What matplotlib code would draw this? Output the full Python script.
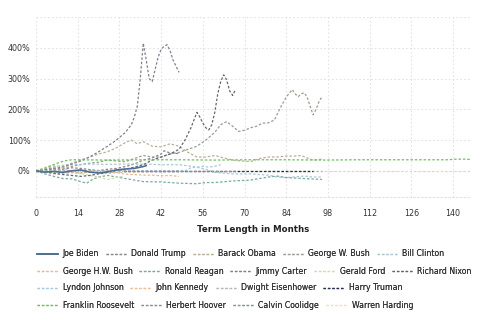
import numpy as np
import matplotlib
matplotlib.use("Agg")
import matplotlib.pyplot as plt
from matplotlib.ticker import FuncFormatter

# --- series: months into term and % change from start of term ---
biden_m = [0, 3, 6, 9, 12, 15, 18, 21, 24, 27, 30, 33, 36, 37]
biden_v = [0, -4, -2, -5, 0, 3, -4, -7, -3, 3, 6, 8, 14, 17]

trump_m = [0, 3, 6, 9, 12, 15, 18, 21, 24, 27, 30, 33, 36, 39, 42, 43, 45, 48]
trump_v = [0, 3, 6, 5, 10, 8, 4, 1, 5, 8, 14, 22, 35, 42, 55, 65, 58, 56]

obama_m = [0, 3, 6, 9, 12, 15, 18, 21, 24, 27, 30, 32, 34, 36, 39, 42, 45, 48, 51,
           54, 57, 60, 63, 66, 69, 72, 75, 78, 81, 84, 87, 89, 91, 93, 96]
obama_v = [0, 5, 12, 15, 25, 35, 45, 55, 62, 75, 92, 100, 88, 95, 80, 78, 88, 80, 60,
           45, 45, 50, 42, 35, 32, 30, 40, 45, 45, 48, 48, 50, 42, 35, 38]

gwbush_m = [0, 3, 6, 9, 12, 15, 18, 21, 24, 27, 30, 33, 36, 39, 42, 45, 48, 51, 54, 57,
            60, 62, 64, 66, 68, 70, 72, 74, 76, 78, 80, 82, 84, 86, 87, 88, 89, 90, 91,
            92, 93, 94, 95, 96]
gwbush_v = [0, 3, 5, 8, 15, 20, 25, 28, 35, 32, 30, 40, 50, 45, 45, 55, 60, 70, 80, 100,
            125, 150, 160, 145, 128, 132, 140, 145, 155, 156, 165, 205, 240, 264, 250, 241,
            250, 254, 240, 210, 182, 200, 225, 241]

clinton_m = [0, 3, 6, 9, 12, 18, 24, 30, 36, 42, 48, 54, 57, 60, 66, 72, 78, 81, 84, 90, 93, 96]
clinton_v = [0, 6, 14, 18, 20, 22, 21, 22, 22, 20, 20, 12, 5, -5, -10, -10, -14, -20, -22, -17, -20, -20]

hwbush_m = [0, 3, 6, 9, 12, 15, 18, 19, 21, 24, 27, 30, 33, 36, 39, 42, 45, 48]
hwbush_v = [0, -5, -10, -9, -6, -9, -3, 3, -6, -9, -5, -11, -12, -14, -14, -16, -15, -18]

reagan_m = [0, 3, 6, 9, 12, 15, 17, 19, 21, 24, 27, 30, 33, 36, 42, 48, 54, 57, 60, 66,
            72, 78, 81, 84, 90, 96]
reagan_v = [0, -10, -18, -25, -26, -35, -40, -28, -20, -15, -20, -25, -30, -35, -36, -40,
            -42, -38, -38, -33, -30, -20, -17, -22, -25, -28]

carter_m = [0, 3, 6, 9, 12, 15, 18, 21, 24, 27, 30, 32, 33, 34, 35, 36, 37, 38, 39, 40,
            41, 42, 43, 44, 45, 46, 47, 48]
carter_v = [0, 4, 8, 12, 22, 32, 45, 62, 80, 100, 125, 150, 175, 210, 300, 415, 360, 300,
            290, 330, 370, 395, 405, 410, 390, 360, 340, 320]

ford_m = [0, 2, 4, 6, 8, 10, 12, 15, 18, 21, 24, 27, 29]
ford_v = [0, 8, 15, 20, 12, 5, 0, -8, -15, -20, -28, -22, -18]

nixon_m = [0, 3, 6, 9, 12, 15, 18, 21, 24, 27, 30, 33, 36, 39, 42, 45, 48, 50, 52, 54,
           55, 56, 57, 58, 59, 60, 61, 62, 63, 64, 65, 66, 67]
nixon_v = [0, -3, -8, -12, -15, -18, -15, -10, -5, 0, 5, 12, 20, 35, 45, 55, 70, 100, 140,
           190, 175, 155, 140, 133, 150, 190, 250, 290, 312, 295, 260, 245, 265]

johnson_m = [0, 48, 50, 51, 52, 54, 56, 58, 60, 62]
johnson_v = [0, 0, 0, 5, 10, 12, 15, 12, 15, 20]

kennedy_m = [0, 34]
kennedy_v = [0, 0]

eisenhower_m = [0, 96]
eisenhower_v = [0, 0]

truman_m = [0, 93]
truman_v = [0, 0]

fdr_m = [0, 2, 4, 6, 8, 10, 12, 24, 36, 48, 60, 72, 84, 96, 108, 120, 132, 138, 141, 144, 146]
fdr_v = [0, 5, 12, 20, 28, 33, 36, 35, 36, 36, 35, 36, 36, 35, 36, 36, 36, 36, 38, 38, 37]

hoover_m = [0, 48]
hoover_v = [0, 0]

coolidge_m = [0, 67]
coolidge_v = [0, 0]

harding_m = [0, 29]
harding_v = [0, 0]

names = ["Joe Biden", "Donald Trump", "Barack Obama", "George W. Bush", "Bill Clinton",
         "George H.W. Bush", "Ronald Reagan", "Jimmy Carter", "Gerald Ford", "Richard Nixon",
         "Lyndon Johnson", "John Kennedy", "Dwight Eisenhower", "Harry Truman",
         "Franklin Roosevelt", "Herbert Hoover", "Calvin Coolidge", "Warren Harding"]
colors = ["#4c6e8f", "#8d8394", "#bcae96", "#96a090", "#aec6d5",
          "#ebb988", "#78a8a7", "#877d8f", "#d6dca0", "#62666e",
          "#a9cade", "#f1bf93", "#b8b8b8", "#26304c",
          "#6ebf5e", "#918ba0", "#889293", "#eee3ad"]
x_ticks = [0, 14, 28, 42, 56, 70, 84, 98, 112, 126, 140]

series = [(biden_m, biden_v), (trump_m, trump_v), (obama_m, obama_v),
          (gwbush_m, gwbush_v), (clinton_m, clinton_v), (hwbush_m, hwbush_v),
          (reagan_m, reagan_v), (carter_m, carter_v), (ford_m, ford_v),
          (nixon_m, nixon_v), (johnson_m, johnson_v), (kennedy_m, kennedy_v),
          (eisenhower_m, eisenhower_v), (truman_m, truman_v), (fdr_m, fdr_v),
          (hoover_m, hoover_v), (coolidge_m, coolidge_v), (harding_m, harding_v)]

W, H = 485, 321
fig = plt.figure(figsize=(W / 100, H / 100), dpi=100)
ax = fig.add_axes([36 / W, 1 - 197 / H, 435 / W, 180 / H])

ax.axhline(0, color="#f3cdbf", lw=0.8, ls=(0, (2, 2)), zorder=1)

handles = []
for i, (m, v) in enumerate(series):
    ls = "-" if i == 0 else (0, (2, 1.5))
    lw = 1.2 if i == 0 else 0.9
    h, = ax.plot(m, np.array(v) / 100.0, color=colors[i], lw=lw, ls=ls,
                 label=names[i], zorder=3 if i == 0 else 2)
    handles.append(h)

ax.set_xlim(0, 146)
ax.set_ylim(-0.85, 5.0)
ax.set_xticks(x_ticks)
ax.set_yticks([0, 1, 2, 3, 4, 5])
ax.yaxis.set_major_formatter(FuncFormatter(lambda y, p: "" if y >= 5 else f"{y * 100:.0f}%"))
ax.grid(True, color="#e3e3e3", lw=0.8, ls=(0, (1.5, 2)))
ax.set_axisbelow(True)
for s in ["top", "right", "left"]:
    ax.spines[s].set_visible(False)
ax.spines["bottom"].set_color("#e3e3e3")
ax.spines["bottom"].set_linestyle((0, (1.5, 2)))
ax.tick_params(length=0, labelsize=5.8, labelcolor="#333333")
ax.tick_params(axis="x", pad=9)
ax.tick_params(axis="y", pad=4)
ax.set_xlabel("Term Length in Months", fontsize=6.2, fontweight="bold",
              color="#222222", labelpad=5)

rows = [[0, 1, 2, 3, 4], [5, 6, 7, 8, 9], [10, 11, 12, 13], [14, 15, 16, 17]]
row_y = [254, 271, 288, 305]
for r, yy in zip(rows, row_y):
    leg = fig.legend([handles[i] for i in r], [names[i] for i in r],
                     loc="center left", bbox_to_anchor=(37 / W, 1 - yy / H),
                     ncol=len(r), frameon=False, fontsize=5.6, handlelength=2.7,
                     handletextpad=0.6, columnspacing=0.85, borderpad=0,
                     borderaxespad=0)
    for t in leg.get_texts():
        t.set_color("#333333")
    fig.add_artist(leg)

fig.savefig("out.png", dpi=100)
